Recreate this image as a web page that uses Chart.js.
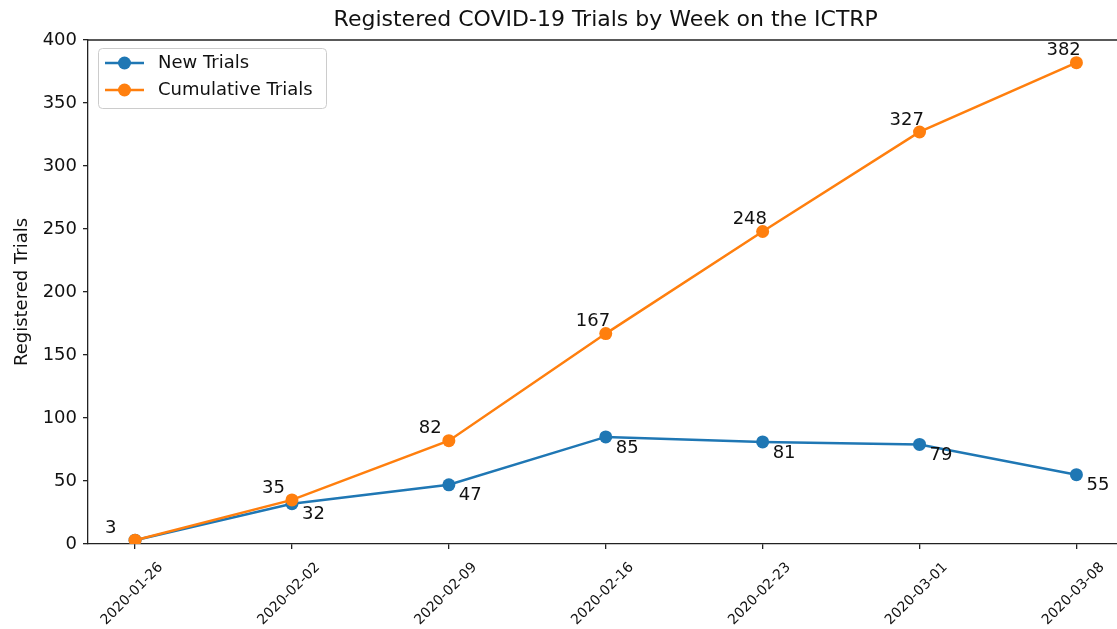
<!DOCTYPE html>
<html>
<head>
<meta charset="utf-8">
<script src="https://cdn.jsdelivr.net/npm/chart.js@4.4.1/dist/chart.umd.min.js"></script>
<style>
  html, body { margin: 0; padding: 0; background: #fff; overflow: hidden; }
  #wrap { width: 1130px; height: 629px; }
</style>
</head>
<body>
<div id="wrap"><canvas id="trialsChart" width="1130" height="629"></canvas></div>
<script>
// data
var weeks = ['2020-01-26', '2020-02-02', '2020-02-09', '2020-02-16', '2020-02-23', '2020-03-01', '2020-03-08'];
var newTrials = [3, 32, 47, 85, 81, 79, 55];
var cumulativeTrials = [3, 35, 82, 167, 248, 327, 382];
var yTicks = [0, 50, 100, 150, 200, 250, 300, 350, 400];

var BLUE = '#1f77b4';
var ORANGE = '#ff7f0e';
var FONT = "'DejaVu Sans', sans-serif";

function toPoints(values) {
    return values.map(function (v, i) { return { x: i, y: v }; });
}

// title, y label, top spine, x labels, point labels, legend
var extras = {
    id: 'extras',
    afterDraw: function (chart) {
        var ctx = chart.ctx;
        var area = chart.chartArea;
        var xs = chart.scales.x;
        ctx.save();

        // top spine
        ctx.strokeStyle = '#222';
        ctx.lineWidth = 1.3;
        ctx.beginPath();
        ctx.moveTo(area.left, area.top);
        ctx.lineTo(area.right, area.top);
        ctx.stroke();

        ctx.fillStyle = '#111';
        ctx.font = '22px ' + FONT;
        ctx.textAlign = 'center';
        ctx.textBaseline = 'middle';
        ctx.fillText('Registered COVID-19 Trials by Week on the ICTRP', (area.left + area.right) / 2, 20);

        ctx.save();
        ctx.translate(22, (area.top + area.bottom) / 2);
        ctx.rotate(-Math.PI / 2);
        ctx.font = '18px ' + FONT;
        ctx.fillText('Registered Trials', 0, 0);
        ctx.restore();

        // x tick labels, rotated 45 and centred on the tick
        ctx.font = '14px ' + FONT;
        weeks.forEach(function (w, i) {
            var px = xs.getPixelForValue(i);
            ctx.save();
            ctx.translate(px - 3, area.bottom + 50);
            ctx.rotate(-Math.PI / 4);
            ctx.textAlign = 'center';
            ctx.textBaseline = 'middle';
            ctx.fillText(w, 0, 0);
            ctx.restore();
        });

        // point labels
        ctx.font = '18px ' + FONT;
        var metaCum = chart.getDatasetMeta(0);
        metaCum.data.forEach(function (pt, i) {
            ctx.textAlign = 'left';
            ctx.textBaseline = 'bottom';
            ctx.fillText(String(cumulativeTrials[i]), pt.x - 30, pt.y - 3);
        });
        var metaNew = chart.getDatasetMeta(1);
        metaNew.data.forEach(function (pt, i) {
            if (i === 0) return;
            ctx.textAlign = 'left';
            ctx.textBaseline = 'top';
            ctx.fillText(String(newTrials[i]), pt.x + 10, pt.y + 2);
        });

        // legend
        var lx = 98, ly = 48, lw = 228, lh = 60;
        ctx.fillStyle = 'rgba(255,255,255,0.8)';
        ctx.strokeStyle = '#cccccc';
        ctx.lineWidth = 1;
        ctx.beginPath();
        ctx.roundRect(lx + 0.5, ly + 0.5, lw, lh, 4);
        ctx.fill();
        ctx.stroke();
        [[BLUE, 'New Trials', 63], [ORANGE, 'Cumulative Trials', 90]].forEach(function (e) {
            ctx.strokeStyle = e[0];
            ctx.fillStyle = e[0];
            ctx.lineWidth = 2.5;
            ctx.beginPath();
            ctx.moveTo(105, e[2]);
            ctx.lineTo(144, e[2]);
            ctx.stroke();
            ctx.beginPath();
            ctx.arc(124.5, e[2], 6.5, 0, Math.PI * 2);
            ctx.fill();
            ctx.fillStyle = '#111';
            ctx.font = '18px ' + FONT;
            ctx.textAlign = 'left';
            ctx.textBaseline = 'middle';
            ctx.fillText(e[1], 158, e[2]);
        });

        ctx.restore();
    }
};

var ctx = document.getElementById('trialsChart').getContext('2d');
new Chart(ctx, {
    type: 'line',
    data: {
        datasets: [{
            label: 'Cumulative Trials',
            data: toPoints(cumulativeTrials),
            borderColor: ORANGE,
            backgroundColor: ORANGE,
            borderWidth: 2.5,
            pointRadius: 6.5,
            pointBorderWidth: 0,
            order: 0
        }, {
            label: 'New Trials',
            data: toPoints(newTrials),
            borderColor: BLUE,
            backgroundColor: BLUE,
            borderWidth: 2.5,
            pointRadius: 6.5,
            pointBorderWidth: 0,
            order: 1
        }]
    },
    options: {
        responsive: false,
        animation: false,
        devicePixelRatio: 1,
        layout: { padding: { top: 40, right: 6, left: 0, bottom: 0 } },
        plugins: {
            legend: { display: false },
            title: { display: false },
            tooltip: { enabled: false }
        },
        scales: {
            x: {
                type: 'linear',
                min: -0.3,
                max: weeks.length - 1 + 0.3,
                afterBuildTicks: function (scale) {
                    scale.ticks = weeks.map(function (w, i) { return { value: i }; });
                },
                afterFit: function (scale) { scale.height = 85; },
                ticks: { display: false },
                grid: { drawOnChartArea: false, drawTicks: true, tickLength: 5, color: '#222', lineWidth: 1.3 },
                border: { color: '#222', width: 1.3 }
            },
            y: {
                min: 0,
                max: 400,
                afterBuildTicks: function (scale) {
                    scale.ticks = yTicks.map(function (v) { return { value: v }; });
                },
                afterFit: function (scale) { scale.width = 88; },
                ticks: { color: '#111', padding: 6, font: { family: FONT, size: 18 } },
                grid: { drawOnChartArea: false, drawTicks: true, tickLength: 5, color: '#222', lineWidth: 1.3 },
                border: { color: '#222', width: 1.3 }
            }
        }
    },
    plugins: [extras]
});
</script>
</body>
</html>
